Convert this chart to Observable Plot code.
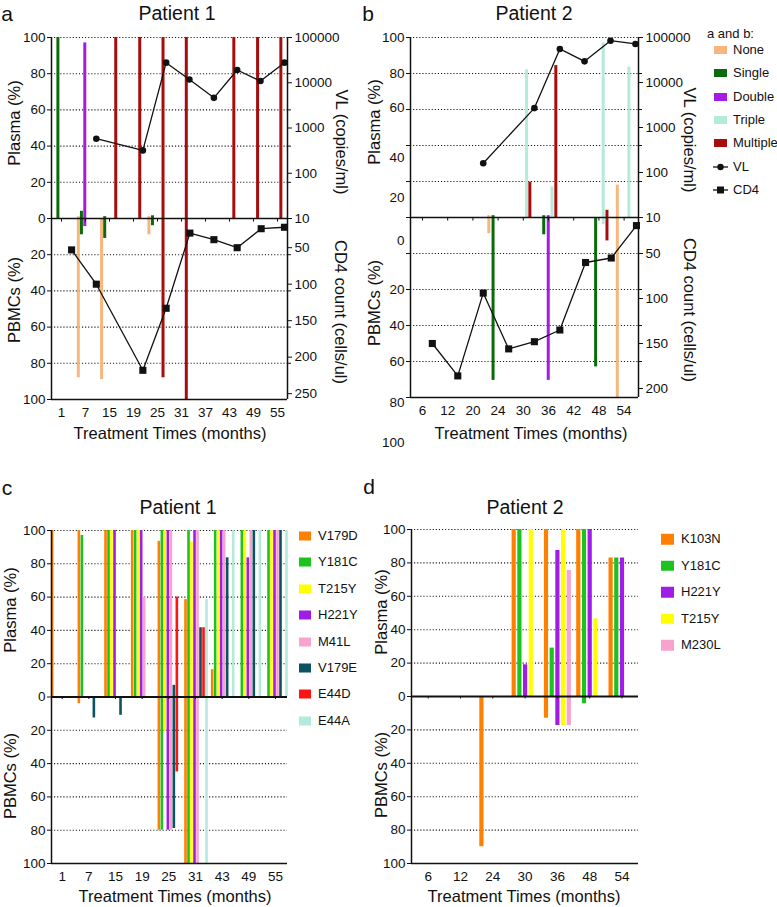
<!DOCTYPE html>
<html><head><meta charset="utf-8">
<script src="https://cdn.jsdelivr.net/npm/d3@7"></script>
<script src="https://cdn.jsdelivr.net/npm/@observablehq/plot@0.6"></script>
<style>
html,body{margin:0;padding:0;background:#fff;}
#root{position:relative;width:777px;height:907px;font-family:"Liberation Sans",Arial,Helvetica,sans-serif;color:#111;overflow:hidden;background:#fff}
.t{position:absolute;white-space:nowrap;line-height:1.15;transform:translate(-50%,-50%)}
.l{position:absolute;white-space:nowrap;line-height:1.15;transform:translate(0,-50%);font-size:13px}
.sw{position:absolute;transform:translate(0,-50%)}
</style></head><body><div id="root"></div><script>
// ---------- data ----------
const classes = ["None","Single","Double","Triple","Multiple"];
const classColors = ["#F6B77E","#0B6B0B","#A41BE6","#B4EBD8","#A80D0D"];

// Panel a (Patient 1)
const aTickLabels = ["1","7","15","19","25","31","37","43","49","55"];
const aVLSlot = [1.45, 3.39, 4.36, 5.33, 6.35, 7.32, 8.29, 9.29];
const aVL = [580, 320, 27800, 11800, 4640, 19100, 10900, 27800];
const aCD4Slot = [0.42, 1.45, 3.39, 4.36, 5.35, 6.35, 7.32, 8.32, 9.29];
const aCD4 = [53, 100, 218, 133, 30, 39, 50, 24, 22];
const aBarSlot = [-0.15, 0.70, 0.83, 0.97, 1.67, 1.80, 2.26, 3.26, 3.64, 3.79, 4.23, 5.20, 7.18, 8.17, 9.14];
const aBarClass = ["Single","None","Single","Double","None","Single","Multiple","Multiple","None","Single","Multiple","Multiple","Multiple","Multiple","Multiple"];
const aBarPlasma = [100, 1, 4, 97, 0, 1, 100, 100, 1, 1.5, 100, 100, 100, 100, 100];
const aBarPBMC   = [0, 88, 9, 4.5, 89, 11, 0, 0, 9, 4, 88, 100, 0, 0, 0];
const aCD4Ticks = [50, 100, 150, 200, 250];

// Panel b (Patient 2)
const bTickLabels = ["6","12","20","24","30","36","42","48","54"];
const bVLSlot = [2.41, 4.44, 5.45, 6.43, 7.46, 8.45];
const bVL = [161, 2700, 55700, 29500, 85000, 71900];
const bCD4Slot = [0.39, 1.40, 2.41, 3.42, 4.44, 5.45, 6.47, 7.49, 8.49];
const bCD4 = [150, 186, 94, 156, 148, 135, 60, 55, 19];
const bBarSlot = [2.63, 2.80, 4.13, 4.26, 4.81, 4.99, 5.14, 5.29, 6.87, 7.17, 7.32, 7.73, 8.19];
const bBarClass = ["None","Single","Triple","Multiple","Single","Double","Triple","Multiple","Single","Triple","Multiple","None","Triple"];
const bBarPlasma = [1, 1, 82, 19.6, 1, 1, 17, 84.4, 0, 97, 4, 18, 83.5];
const bBarPBMC   = [9, 90.5, 0, 0, 9.6, 90.5, 0, 0, 83, 4, 13, 100, 0];
const bCD4Ticks = [50, 100, 150, 200];
const bPlasmaLabels = ["100","80","60","40","20"];
const bPlasmaLabelAt = [100, 80, 61, 33, 11];
const bPBMCLabels = ["0","20","40","60","80","100"];
const bPBMCLabelAt = [-13, -40, -60, -80, -103, -125];

const vlTicks = [10, 100, 1000, 10000, 100000];

// Panel c (Patient 1 mutations)
const cTickLabels = ["1","7","15","19","25","31","43","49","55"];
const cMutations = ["V179D","Y181C","T215Y","H221Y","M41L","V179E","E44D","E44A"];
const cColors = ["#FF8000","#1EC21E","#FFFF00","#A21CE8","#F8A3CE","#0C5260","#FF1414","#B4EBD8"];
const cPlasma = [
  [100, 100, 100, 100, 93.5, 58.5, 16.4, 0, 0],
  [0, 97, 100, 100, 100, 100, 100, 100, 100],
  [0, 0, 100, 100, 100, 93, 100, 100, 100],
  [0, 0, 100, 100, 100, 100, 100, 83.6, 100],
  [0, 0, 0, 60, 100, 100, 100, 100, 100],
  [0, 0, 0, 0, 7, 41.6, 83.6, 100, 100],
  [0, 0, 0, 0, 60, 41.6, 0, 0, 0],
  [0, 0, 0, 0, 0, 58.6, 100, 100, 100]
];
const cPBMC = [
  [0, 4, 0, 0, 80, 100, 0, 0, 0],
  [0, 0, 0, 0, 80, 100, 0, 0, 0],
  [0, 0, 0, 0, 20.6, 100, 0, 0, 0],
  [0, 0, 0, 0, 80, 100, 0, 0, 0],
  [0, 0, 0, 0, 80, 100, 0, 0, 0],
  [0, 12.6, 11, 0, 79, 0, 0, 0, 0],
  [0, 0, 0, 0, 45, 0, 0, 0, 0],
  [0, 0, 0, 0, 0, 100, 0, 0, 0]
];

// Panel d (Patient 2 mutations)
const dTickLabels = ["6","12","24","30","36","48","54"];
const dMutations = ["K103N","Y181C","H221Y","T215Y","M230L"];
const dColors = ["#FF8000","#1EC21E","#A21CE8","#FFFF00","#F8A3CE"];
const dPlasma = [
  [0, 0, 0, 100, 100, 100, 83],
  [0, 0, 0, 100, 29, 100, 83],
  [0, 0, 0, 19, 87.5, 100, 83],
  [0, 0, 0, 100, 100, 46.5, 0],
  [0, 0, 0, 0, 75.5, 0, 0]
];
const dPBMC = [
  [0, 0, 90, 0, 13, 0, 0],
  [0, 0, 0, 0, 0, 4.4, 0],
  [0, 0, 0, 0, 17.4, 0, 0],
  [0, 0, 0, 0, 17.4, 0, 0],
  [0, 0, 0, 0, 17.4, 0, 0]
];

// ---------- helpers ----------
const FONT = '"Liberation Sans", Arial, Helvetica, sans-serif';
const root = document.getElementById("root");
const gridVals = [100, 80, 60, 40, 20, -20, -40, -60, -80];
const pctTicks = d3.range(-100, 101, 20);
const dotted = {stroke: "#111", strokeWidth: 1.1, strokeDasharray: "1.1,2"};
const vlY = v => (Math.log10(v) - 1) * 25;
const styleObj = {fontFamily: FONT, fontSize: "13.5px", background: "transparent", overflow: "visible", color: "#111"};

function place(svg, left, top) {
  svg.style.position = "absolute";
  svg.style.left = left + "px";
  svg.style.top = top + "px";
  root.appendChild(svg);
}
function txt(text, x, y, size, rot) {
  const el = document.createElement("div");
  el.className = "t";
  el.textContent = text;
  el.style.left = x + "px";
  el.style.top = y + "px";
  el.style.fontSize = size + "px";
  if (rot) el.style.transform = `translate(-50%,-50%) rotate(${rot}deg)`;
  root.appendChild(el);
}

function timelinePanel(o) {
  const bars = o.barSlot.map((s, i) => ({s, cls: o.barClass[i], plasma: o.barPlasma[i], pbmc: o.barPBMC[i]}));
  const vl = o.vlSlot.map((s, i) => ({s, v: o.vl[i]}));
  const cd4 = o.cd4Slot.map((s, i) => ({s, v: o.cd4[i]}));
  const cd4Y = v => -(v - 10) / o.cd4Span * 100;
  const slots = d3.range(o.tickLabels.length);
  const marks = [
    Plot.ruleY(gridVals, dotted),
    Plot.ruleX(bars.filter(d => d.plasma > 0), {x: "s", y1: 0, y2: "plasma", stroke: "cls", strokeWidth: 3}),
    Plot.ruleX(bars.filter(d => d.pbmc > 0), {x: "s", y1: 0, y2: d => -d.pbmc, stroke: "cls", strokeWidth: 3}),
    Plot.ruleY([0, -100], {stroke: "#111", strokeWidth: 1.5}),
    Plot.ruleX(o.xDomain, {y1: -100, y2: 100, stroke: "#111", strokeWidth: 1.5}),
    Plot.ruleX(slots, {y1: 0, y2: -2, stroke: "#111"}),
    Plot.line(vl, {x: "s", y: d => vlY(d.v), stroke: "#111", strokeWidth: 1.3}),
    Plot.dot(vl, {x: "s", y: d => vlY(d.v), r: 3.3, fill: "#111", symbol: "circle"}),
    Plot.line(cd4, {x: "s", y: d => cd4Y(d.v), stroke: "#111", strokeWidth: 1.3}),
    Plot.dot(cd4, {x: "s", y: d => cd4Y(d.v), r: 4, fill: "#111", symbol: "square"}),
    Plot.axisY(vlTicks.map(vlY), {anchor: "right", label: null, tickSize: 4, tickPadding: 3,
      tickFormat: y => String(Math.round(10 ** (y / 25 + 1)))}),
    Plot.axisY(o.cd4Ticks.map(cd4Y), {anchor: "right", label: null, tickSize: 4, tickPadding: 3,
      tickFormat: y => String(Math.round(10 - y * o.cd4Span / 100))}),
    Plot.axisY(gridVals, {anchor: "right", label: null, tickSize: 3, tickFormat: () => ""}),
    Plot.axisX(slots, {anchor: "bottom", label: null, tickSize: 0, tickPadding: 8, tickFormat: i => o.tickLabels[i]})
  ];
  if (o.leftLabels) {
    marks.push(Plot.axisY(pctTicks, {anchor: "left", label: null, tickSize: 4, tickFormat: () => ""}));
    marks.push(Plot.text(o.leftLabels, {y: "at", text: "t", frameAnchor: "left", textAnchor: "end", dx: -6, fontSize: 13.5}));
  } else {
    marks.push(Plot.axisY(pctTicks, {anchor: "left", label: null, tickSize: 4, tickPadding: 2, tickFormat: d => String(Math.abs(d))}));
  }
  return Plot.plot({
    width: o.width, height: o.height,
    marginLeft: o.m[0], marginRight: o.m[1], marginTop: o.m[2], marginBottom: o.m[3],
    x: {domain: o.xDomain, axis: null, label: null},
    y: {domain: [-100, 100], axis: null, label: null},
    color: {domain: classes, range: classColors},
    style: styleObj,
    marks
  });
}

function mutationPanel(o) {
  const bars = [];
  o.mutations.forEach((m, k) => {
    o.plasma[k].forEach((v, s) => { if (v > 0) bars.push({s, k, m, v}); });
    o.pbmc[k].forEach((v, s) => { if (v > 0) bars.push({s, k, m, v: -v}); });
  });
  const n = o.mutations.length;
  const slots = d3.range(o.tickLabels.length);
  return Plot.plot({
    width: o.width, height: o.height,
    marginLeft: o.m[0], marginRight: o.m[1], marginTop: o.m[2], marginBottom: o.m[3],
    x: {domain: o.xDomain, axis: null, label: null},
    y: {domain: [-100, 100], axis: null, label: null},
    color: {domain: o.mutations, range: o.colors},
    style: styleObj,
    marks: [
      Plot.ruleY(gridVals, dotted),
      Plot.ruleX(bars, {x: d => d.s + (d.k - (n - 1) / 2) * o.step + o.shift, y1: 0, y2: "v", stroke: "m", strokeWidth: o.barWidth}),
      Plot.ruleY([0], {stroke: "#111", strokeWidth: 2}),
      Plot.ruleY([-100], {stroke: "#111", strokeWidth: 1.5}),
      Plot.ruleX([o.xDomain[0]], {y1: -100, y2: 100, stroke: "#111", strokeWidth: 1.5}),
      Plot.ruleX(slots, {y1: 0, y2: -1.5, stroke: "#111"}),
      Plot.axisY(pctTicks, {anchor: "left", label: null, tickSize: 4, tickPadding: 2, tickFormat: d => String(Math.abs(d))}),
      Plot.axisX(slots, {anchor: "bottom", label: null, tickSize: 0, tickPadding: 8, tickFormat: i => o.tickLabels[i]})
    ]
  });
}

// ---------- panels ----------
place(timelinePanel({
  width: 340, height: 440, m: [51, 53, 37, 41], xDomain: [-0.417, 9.417],
  tickLabels: aTickLabels, vlSlot: aVLSlot, vl: aVL, cd4Slot: aCD4Slot, cd4: aCD4,
  barSlot: aBarSlot, barClass: aBarClass, barPlasma: aBarPlasma, barPBMC: aBarPBMC,
  cd4Span: 248, cd4Ticks: aCD4Ticks
}), 0, 0);

const bLeftLabels = bPlasmaLabels.map((t, i) => ({t, at: bPlasmaLabelAt[i]}))
  .concat(bPBMCLabels.map((t, i) => ({t, at: bPBMCLabelAt[i]})));
place(timelinePanel({
  width: 340, height: 460, m: [50, 62, 37, 63], xDomain: [-0.476, 8.571],
  tickLabels: bTickLabels, vlSlot: bVLSlot, vl: bVL, cd4Slot: bCD4Slot, cd4: bCD4,
  barSlot: bBarSlot, barClass: bBarClass, barPlasma: bBarPlasma, barPBMC: bBarPBMC,
  cd4Span: 200, cd4Ticks: bCD4Ticks, leftLabels: bLeftLabels
}), 360, 0);

place(mutationPanel({
  width: 300, height: 437, m: [51, 13, 60, 44], xDomain: [-0.401, 8.45],
  tickLabels: cTickLabels, mutations: cMutations, colors: cColors, plasma: cPlasma, pbmc: cPBMC,
  step: 0.1125, shift: 0.019, barWidth: 2.6
}), 0, 470);

place(mutationPanel({
  width: 290, height: 437, m: [51, 12, 59, 44], xDomain: [-0.517, 6.511],
  tickLabels: dTickLabels, mutations: dMutations, colors: dColors, plasma: dPlasma, pbmc: dPBMC,
  step: 0.1765, shift: 0, barWidth: 4.2
}), 360, 470);

// ---------- text ----------
txt("a", 7, 14, 21);
txt("Patient 1", 177, 13, 19.5);
txt("b", 368, 14, 21);
txt("Patient 2", 534, 13, 19.5);
txt("c", 7, 488, 21);
txt("Patient 1", 178, 506.5, 19.5);
txt("d", 369, 486.5, 21);
txt("Patient 2", 525, 506.5, 19.5);

txt("Plasma (%)", 13.5, 123, 16.5, -90);
txt("PBMCs (%)", 13.5, 300, 16.5, -90);
txt("VL (copies/ml)", 342, 142, 16.5, 90);
txt("CD4 count (cells/ul)", 341, 312, 16.5, 90);
txt("Treatment Times (months)", 170, 433, 16.5);

txt("Plasma (%)", 374, 122, 16.5, -90);
txt("PBMCs (%)", 374, 303, 16.5, -90);
txt("VL (copies/ml)", 690, 140, 16.5, 90);
txt("CD4 count (cells/ul)", 690, 310, 16.5, 90);
txt("Treatment Times (months)", 531, 433, 16.5);

txt("Plasma (%)", 10, 610, 16.5, -90);
txt("PBMCs (%)", 10, 776, 16.5, -90);
txt("Treatment Times (months)", 175, 896, 16.5);

txt("Plasma (%)", 381, 612, 16.5, -90);
txt("PBMCs (%)", 381, 775, 16.5, -90);
txt("Treatment Times (months)", 524, 896, 16.5);

// ---------- legends ----------
function legendLabel(text, x, y) {
  const el = document.createElement("div");
  el.className = "l"; el.textContent = text;
  el.style.left = x + "px"; el.style.top = y + "px";
  root.appendChild(el);
}
function swatch(color, x, y, w, h) {
  const el = document.createElement("div");
  el.className = "sw";
  el.style.left = x + "px"; el.style.top = y + "px";
  el.style.width = w + "px"; el.style.height = h + "px";
  el.style.background = color;
  root.appendChild(el);
}
legendLabel("a and b:", 707, 34);
classes.forEach((c, i) => {
  const y = 50 + i * 23.3;
  swatch(classColors[i], 714, y, 13, 8);
  legendLabel(c, 733, y);
});
["VL", "CD4"].forEach((name, i) => {
  const y = 50 + (5 + i) * 23.3;
  const ns = "http://www.w3.org/2000/svg";
  const s = document.createElementNS(ns, "svg");
  s.setAttribute("width", 16); s.setAttribute("height", 10);
  s.style.position = "absolute"; s.style.left = "713px"; s.style.top = (y - 5) + "px";
  const ln = document.createElementNS(ns, "line");
  ln.setAttribute("x1", 0); ln.setAttribute("x2", 15); ln.setAttribute("y1", 5); ln.setAttribute("y2", 5);
  ln.setAttribute("stroke", "#111"); ln.setAttribute("stroke-width", 1.3);
  s.appendChild(ln);
  if (name === "VL") {
    const c = document.createElementNS(ns, "circle");
    c.setAttribute("cx", 7.5); c.setAttribute("cy", 5); c.setAttribute("r", 3.2); c.setAttribute("fill", "#111");
    s.appendChild(c);
  } else {
    const r = document.createElementNS(ns, "rect");
    r.setAttribute("x", 4); r.setAttribute("y", 1.5); r.setAttribute("width", 7); r.setAttribute("height", 7); r.setAttribute("fill", "#111");
    s.appendChild(r);
  }
  root.appendChild(s);
  legendLabel(name, 733, y);
});
cMutations.forEach((m, i) => {
  const y = 536 + i * 26.4;
  swatch(cColors[i], 299, y, 12, 9);
  legendLabel(m, 318, y);
});
dMutations.forEach((m, i) => {
  const y = 539 + i * 26.5;
  swatch(dColors[i], 661, y, 13, 10.5);
  legendLabel(m, 681, y);
});
</script></body></html>
